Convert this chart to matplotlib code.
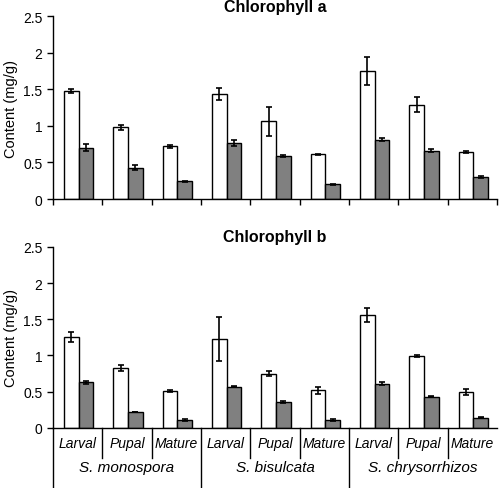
import matplotlib
matplotlib.use("Agg")
import matplotlib.pyplot as plt
import numpy as np

stages = ["Larval", "Pupal", "Mature"]
species = ["S. monospora", "S. bisulcata", "S. chrysorrhizos"]

# chlorophyll a
a_white = [1.48, 0.98, 0.72, 1.44, 1.06, 0.61, 1.75, 1.29, 0.64]
a_white_err = [0.03, 0.03, 0.02, 0.08, 0.20, 0.01, 0.19, 0.10, 0.01]
a_gray = [0.70, 0.43, 0.24, 0.77, 0.59, 0.20, 0.81, 0.66, 0.30]
a_gray_err = [0.05, 0.04, 0.01, 0.04, 0.01, 0.01, 0.02, 0.02, 0.01]

# chlorophyll b
b_white = [1.25, 0.83, 0.51, 1.23, 0.75, 0.52, 1.56, 0.99, 0.49]
b_white_err = [0.07, 0.04, 0.01, 0.30, 0.03, 0.05, 0.10, 0.01, 0.04]
b_gray = [0.63, 0.22, 0.11, 0.57, 0.36, 0.11, 0.61, 0.43, 0.14]
b_gray_err = [0.02, 0.005, 0.01, 0.01, 0.01, 0.01, 0.02, 0.01, 0.01]

plt.rcParams['font.family'] = ['Liberation Sans', 'DejaVu Sans']

fig = plt.figure(figsize=(5, 4.89), dpi=100)
ax1 = fig.add_axes([0.106, 0.591, 0.888, 0.374])
ax2 = fig.add_axes([0.106, 0.123, 0.888, 0.370])

x = np.arange(9)
w = 0.3

def draw(ax, white, werr, gray, gerr, title, ty):
    ekw = dict(elinewidth=1.2, capthick=1.2, ecolor='black')
    ax.bar(x + 0.37, white, w, yerr=werr, color='white', edgecolor='black',
           linewidth=1.0, capsize=2.5, error_kw=ekw)
    ax.bar(x + 0.67, gray, w, yerr=gerr, color='#808080', edgecolor='black',
           linewidth=1.0, capsize=2.5, error_kw=ekw)
    ax.set_xlim(0, 9)
    ax.set_ylim(0, 2.5)
    ax.set_yticks([0, 0.5, 1, 1.5, 2, 2.5])
    ax.set_yticklabels(['0', '0.5', '1', '1.5', '2', '2.5'])
    ax.spines['top'].set_visible(False)
    ax.spines['right'].set_visible(False)
    ax.spines['left'].set_linewidth(1.0)
    ax.spines['bottom'].set_linewidth(1.0)
    ax.tick_params(axis='y', direction='out', length=4, labelsize=10, width=1.0)
    ax.set_ylabel('Content (mg/g)', fontsize=10.5)
    ax.text(0.5, ty, title, transform=ax.transAxes, ha='center', va='center',
            fontsize=11.5, fontweight='bold')

draw(ax1, a_white, a_white_err, a_gray, a_gray_err, 'Chlorophyll a', 1.052)
draw(ax2, b_white, b_white_err, b_gray, b_gray_err, 'Chlorophyll b', 1.058)

ax1.set_xticks(np.arange(10))
ax1.set_xticklabels([])
ax1.tick_params(axis='x', direction='out', length=4, width=1.0)

ax2.set_xticks([])
ax2.spines['bottom'].set_bounds(0, 9)

# category table under the bottom panel
trans = ax2.get_xaxis_transform()
for i in range(9):
    ax2.text(i + 0.5, -0.083, stages[i % 3], transform=trans, ha='center',
             va='center', fontsize=10, style='italic')
for j in range(3):
    ax2.text(3 * j + 1.5, -0.215, species[j], transform=trans, ha='center',
             va='center', fontsize=11, style='italic')
for i in range(1, 9):
    bottom = -0.335 if i % 3 == 0 else -0.166
    ax2.plot([i, i], [0, bottom], transform=trans, color='black',
             linewidth=1.0, clip_on=False)
ax2.plot([0, 0], [0, -0.335], transform=trans, color='black',
         linewidth=1.0, clip_on=False)

fig.savefig('out.png', dpi=100)
